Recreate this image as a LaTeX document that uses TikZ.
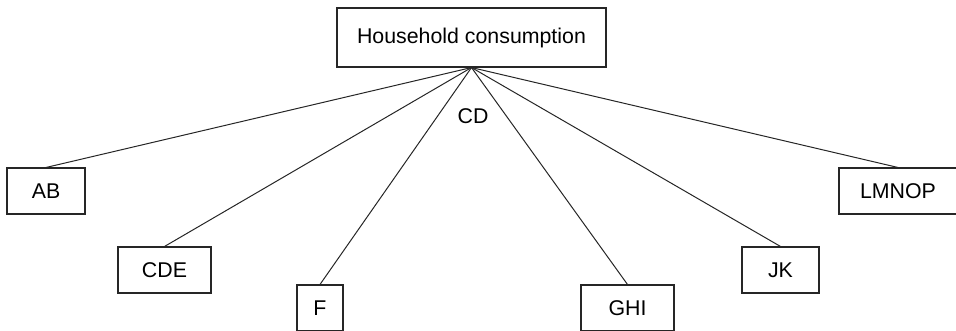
\documentclass[tikz,border=0pt]{standalone}
\usepackage{fontspec}
\setmainfont{Liberation Sans}
\tikzset{
  catbox/.style={draw=black!85,line width=0.8pt,inner sep=0pt,minimum height=34.5pt,font=\fontsize{16}{19}\selectfont},
  branch/.style={draw=black!85,line width=0.75pt}
}
\begin{document}
\begin{tikzpicture}[x=0.75pt,y=-0.75pt]
    \useasboundingbox (0,0) rectangle (956,330);
    \clip (0,0) rectangle (956,330);
    \node[catbox,minimum width=201.75pt,minimum height=44.25pt] (house) at (471.5, 37.5) {Household consumption};
    \node[catbox,minimum width=58.5pt]  (ab)    at ( 46.0,191.0) {AB};
    \node[catbox,minimum width=69.75pt] (cde)   at (164.5,270.0) {CDE};
    \node[catbox,minimum width=34.5pt]  (f)     at (320.0,308.0) {F};
    \node[catbox,minimum width=69.75pt] (ghi)   at (627.5,308.0) {GHI};
    \node[catbox,minimum width=57.75pt] (jk)    at (780.5,270.0) {JK};
    \node[catbox,minimum width=88.5pt]  (lmnop) at (898.0,191.0) {LMNOP};
    \node[font=\fontsize{16}{19}\selectfont] (cd) at (473.0,116.0) {CD};
    \draw[branch] (house.south) -- (ab.north);
    \draw[branch] (house.south) -- (cde.north);
    \draw[branch] (house.south) -- (f.north);
    \draw[branch] (house.south) -- (ghi.north);
    \draw[branch] (house.south) -- (jk.north);
    \draw[branch] (house.south) -- (lmnop.north);
\end{tikzpicture}
\end{document}
